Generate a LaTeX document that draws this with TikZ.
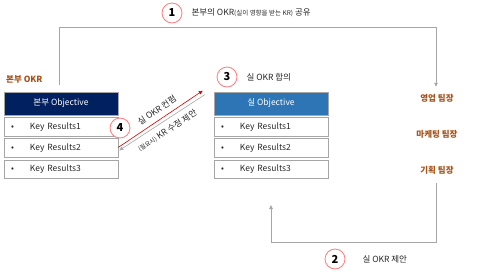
\documentclass[tikz,border=0pt]{standalone}
\usepackage{fontspec}
\setmainfont{Noto Sans CJK KR}
\usetikzlibrary{calc,positioning,arrows.meta}
\definecolor{navyObj}{HTML}{002060}
\definecolor{blueObj}{HTML}{2E75B6}
\definecolor{brownTxt}{HTML}{A4531C}
\definecolor{lineGray}{HTML}{A6A6A6}
\definecolor{ringRed}{HTML}{FF7C80}
\definecolor{textMain}{HTML}{262626}
\newcommand{\krline}[1]{\makebox[26pt][l]{\hspace{7pt}\textbullet}Key Results#1}

\begin{document}
\begin{tikzpicture}[
    x=1pt, y=-1pt,
    node distance=2pt and 2pt,
    objbox/.style={rectangle, draw=lineGray, line width=0.6pt, text=white,
                   minimum width=114pt, minimum height=23pt, inner sep=0pt,
                   font=\fontsize{8.5}{10}\selectfont},
    krbox/.style={rectangle, draw=lineGray, line width=0.6pt, fill=white, text=textMain,
                  text width=114pt, minimum height=18.5pt, inner sep=0pt, align=left,
                  font=\fontsize{8.5}{10}\selectfont},
    numcirc/.style={circle, draw=ringRed, line width=0.8pt, fill=white, text=black,
                    minimum size=20pt, inner sep=0pt, font=\fontsize{11}{11}\selectfont\bfseries},
    steptext/.style={anchor=west, text=textMain, inner sep=0pt, font=\fontsize{8.5}{10}\selectfont},
    teamlabel/.style={text=brownTxt, inner sep=1pt, font=\fontsize{8.5}{10}\selectfont\bfseries},
    conn/.style={draw=lineGray, line width=0.8pt, -{Triangle[length=4pt, width=3.5pt]}},
    confirm/.style={draw=red!85!black, line width=0.6pt, -{Triangle[length=4pt, width=3.5pt]}},
    revise/.style={draw=lineGray, line width=0.6pt, -{Triangle[length=4pt, width=3.5pt]}},
]
    \useasboundingbox (0,0) rectangle (496,274);

    % headquarters OKR (left)
    \node[teamlabel, anchor=west] (hqlabel) at (5,79) {본부 OKR};
    \node[objbox, fill=navyObj] (hqobj) at (61,103.5) {본부 Objective};
    \node[krbox, below=of hqobj] (hqkr1) {\krline{1}};
    \node[krbox, below=of hqkr1] (hqkr2) {\krline{2}};
    \node[krbox, below=of hqkr2] (hqkr3) {\krline{3}};

    % division OKR (middle)
    \node[objbox, fill=blueObj] (divobj) at (271,103.5) {실 Objective};
    \node[krbox, below=of divobj] (divkr1) {\krline{1}};
    \node[krbox, below=of divkr1] (divkr2) {\krline{2}};
    \node[krbox, below=of divkr2] (divkr3) {\krline{3}};

    % team leaders (right)
    \node[teamlabel] (sales) at (437,98) {영업 팀장};
    \node[teamlabel] (mkt) at (437,134) {마케팅 팀장};
    \node[teamlabel] (plan) at (437,170) {기획 팀장};

    % step 1
    \coordinate (shareStart) at (59,85);
    \draw[conn] (shareStart) |- (436,27) -- ([yshift=6pt]sales.north -| 436,0);
    \node[numcirc] (n1) at (172,13) {1};
    \node[steptext, right=9pt of n1] (t1) {본부의 OKR{\fontsize{6.5}{7}\selectfont(실이 영향을 받는 KR)} 공유};

    % step 2
    \coordinate (propEnd) at (271,205);
    \draw[conn] ([yshift=-8pt]plan.south -| 436,0) |- (271,242) -- (propEnd);
    \node[numcirc] (n2) at (335,259) {2};
    \node[steptext, right=17pt of n2] (t2) {실 OKR 제안};

    % step 3
    \node[numcirc] (n3) at (227,77) {3};
    \node[steptext, right=9pt of n3] (t3) {실 OKR 합의};

    % step 4
    \draw[confirm] ($(hqkr2.north east)+(0,9)$) -- ($(divobj.north west)+(-11,-1)$)
        node[pos=0.52, sloped, above=2pt, text=textMain, font=\fontsize{8.5}{10}\selectfont] (t4a) {실 OKR 컨펌};
    \draw[revise] ($(divobj.north west)+(-9,3)$) -- ($(hqkr2.north east)+(1,12)$)
        node[midway, sloped, below=2pt, text=textMain, font=\fontsize{8.5}{10}\selectfont] (t4b) {{\fontsize{6}{7}\selectfont(필요시)} KR 수정 제안};
    \node[numcirc] (n4) at (120,128) {4};
\end{tikzpicture}
\end{document}
